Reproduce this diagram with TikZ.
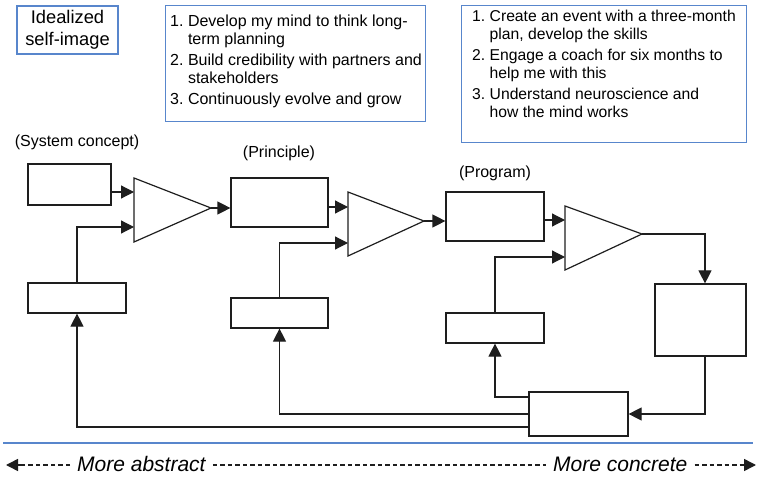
\documentclass[tikz,border=0pt]{standalone}
\usepackage{fontspec}
\setmainfont{Liberation Sans}
\usetikzlibrary{arrows.meta,calc}
\definecolor{boxblue}{RGB}{88,134,204}
\definecolor{ink}{RGB}{30,30,30}
\begin{document}
\begin{tikzpicture}[x=1pt,y=-1pt,
  blk/.style={draw=ink, line width=1.2pt, inner sep=0pt},
  bluebox/.style={draw=boxblue, line width=1.2pt, inner sep=0pt},
  conn/.style={draw=ink, line width=1.2pt, -{Triangle[length=13pt,width=13pt]}},
  amp/.style={draw=ink, line width=1.2pt, line join=miter},
  lbl/.style={inner sep=0pt, anchor=base, font=\fontsize{16}{19}\selectfont},
  listtxt/.style={inner sep=0pt, anchor=base west},
  axistxt/.style={inner xsep=7pt, inner ysep=0pt, anchor=base west, font=\fontsize{21}{24}\selectfont\itshape},
  dashline/.style={draw=ink, line width=1.5pt, dash pattern=on 4.5pt off 3pt},
  tipline/.style={draw=ink, line width=1.5pt, -{Triangle[length=12pt,width=12pt]}},
]
\useasboundingbox (0,0) rectangle (758,489);

% top boxes
\node[bluebox, minimum width=101, minimum height=48, align=center,
      font=\fontsize{18.3}{22}\selectfont] (ideal) at (67.5,30) {Idealized\\self-image};
\node[bluebox, minimum width=260, minimum height=116, anchor=north west] (plan) at (165,5) {};
\node[listtxt, font=\fontsize{16}{17.5}\selectfont] (plantxt) at (170,27) {\begin{tabular}[t]{@{}l@{\hspace{4.5pt}}l@{}}
1. & Develop my mind to think long-\\
   & term planning\\[4pt]
2. & Build credibility with partners and\\
   & stakeholders\\[4pt]
3. & Continuously evolve and grow
\end{tabular}};
\node[bluebox, minimum width=285, minimum height=137, anchor=north west] (prog3) at (461,5) {};
\node[listtxt, font=\fontsize{15.7}{17.5}\selectfont] (prog3txt) at (472,22) {\begin{tabular}[t]{@{}l@{\hspace{4.4pt}}l@{}}
1. & Create an event with a three-month\\
   & plan, develop the skills\\[4pt]
2. & Engage a coach for six months to\\
   & help me with this\\[4pt]
3. & Understand neuroscience and\\
   & how the mind works
\end{tabular}};

% level labels
\node[lbl] (sys) at (77,147) {(System concept)};
\node[lbl] (prin) at (279,158) {(Principle)};
\node[lbl] (progl) at (495,178) {(Program)};

% boxes
\node[blk, minimum width=83, minimum height=41] (A) at (69.5,184.5) {};
\node[blk, minimum width=98, minimum height=30] (B) at (77,298) {};
\node[blk, minimum width=97, minimum height=49] (C) at (279.5,202.5) {};
\node[blk, minimum width=97, minimum height=30] (D) at (279.5,313) {};
\node[blk, minimum width=98, minimum height=49] (E) at (495,216.5) {};
\node[blk, minimum width=98, minimum height=30] (F) at (495,328) {};
\node[blk, minimum width=91, minimum height=72] (G) at (700.5,320) {};
\node[blk, minimum width=99, minimum height=44] (H) at (578.5,414) {};

% comparators (triangles)
\coordinate (t1tl) at (134,178); \coordinate (t1bl) at (134,242); \coordinate (t1tip) at (211,208);
\coordinate (t1in1) at (134,192); \coordinate (t1in2) at (134,227);
\coordinate (t2tl) at (348,192); \coordinate (t2bl) at (348,256); \coordinate (t2tip) at (424,221);
\coordinate (t2in1) at (348,207); \coordinate (t2in2) at (348,243);
\coordinate (t3tl) at (565,206); \coordinate (t3bl) at (565,270); \coordinate (t3tip) at (642,234);
\coordinate (t3in1) at (565,220); \coordinate (t3in2) at (565,257);
\draw[amp] (t1tl) -- (t1tip) -- (t1bl) -- cycle;
\draw[amp] (t2tl) -- (t2tip) -- (t2bl) -- cycle;
\draw[amp] (t3tl) -- (t3tip) -- (t3bl) -- cycle;

% forward connectors
\draw[conn] (A.east |- t1in1) -- (t1in1);
\draw[conn] (B.north) |- (t1in2);
\draw[conn] (t1tip) -- (t1tip -| C.west);
\draw[conn] (C.east |- t2in1) -- (t2in1);
\draw[conn] (D.north) |- (t2in2);
\draw[conn] (t2tip) -- (t2tip -| E.west);
\draw[conn] (E.east |- t3in1) -- (t3in1);
\draw[conn] (F.north) |- (t3in2);
\coordinate (gx) at (705,0);
\draw[conn] (t3tip) -| (G.north -| gx);
\draw[conn] (G.south -| gx) |- (H.east);

% feedback connectors
\coordinate (hy1) at (0,397);
\coordinate (hy3) at (0,427);
\draw[conn] (H.west |- hy1) -| (F.south);
\draw[conn] (H.west) -| (D.south);
\draw[conn] (H.west |- hy3) -| (B.south);

% separator
\coordinate (sepl) at (3,443); \coordinate (sepr) at (753,443);
\draw[boxblue, line width=1.3pt] (sepl) -- (sepr);

% abstract / concrete axis
\node[axistxt] (abs) at (70,471) {More abstract};
\node[axistxt] (con) at (546,471) {More concrete};
\coordinate (la) at (6,465); \coordinate (l1) at (22,465);
\coordinate (ra) at (756,465); \coordinate (r1) at (740,465);
\draw[dashline] (abs.west |- la) -- (l1);
\draw[tipline] (l1) -- (la);
\draw[dashline] (abs.east |- la) -- (con.west |- la);
\draw[dashline] (con.east |- ra) -- (r1);
\draw[tipline] (r1) -- (ra);
\end{tikzpicture}
\end{document}
